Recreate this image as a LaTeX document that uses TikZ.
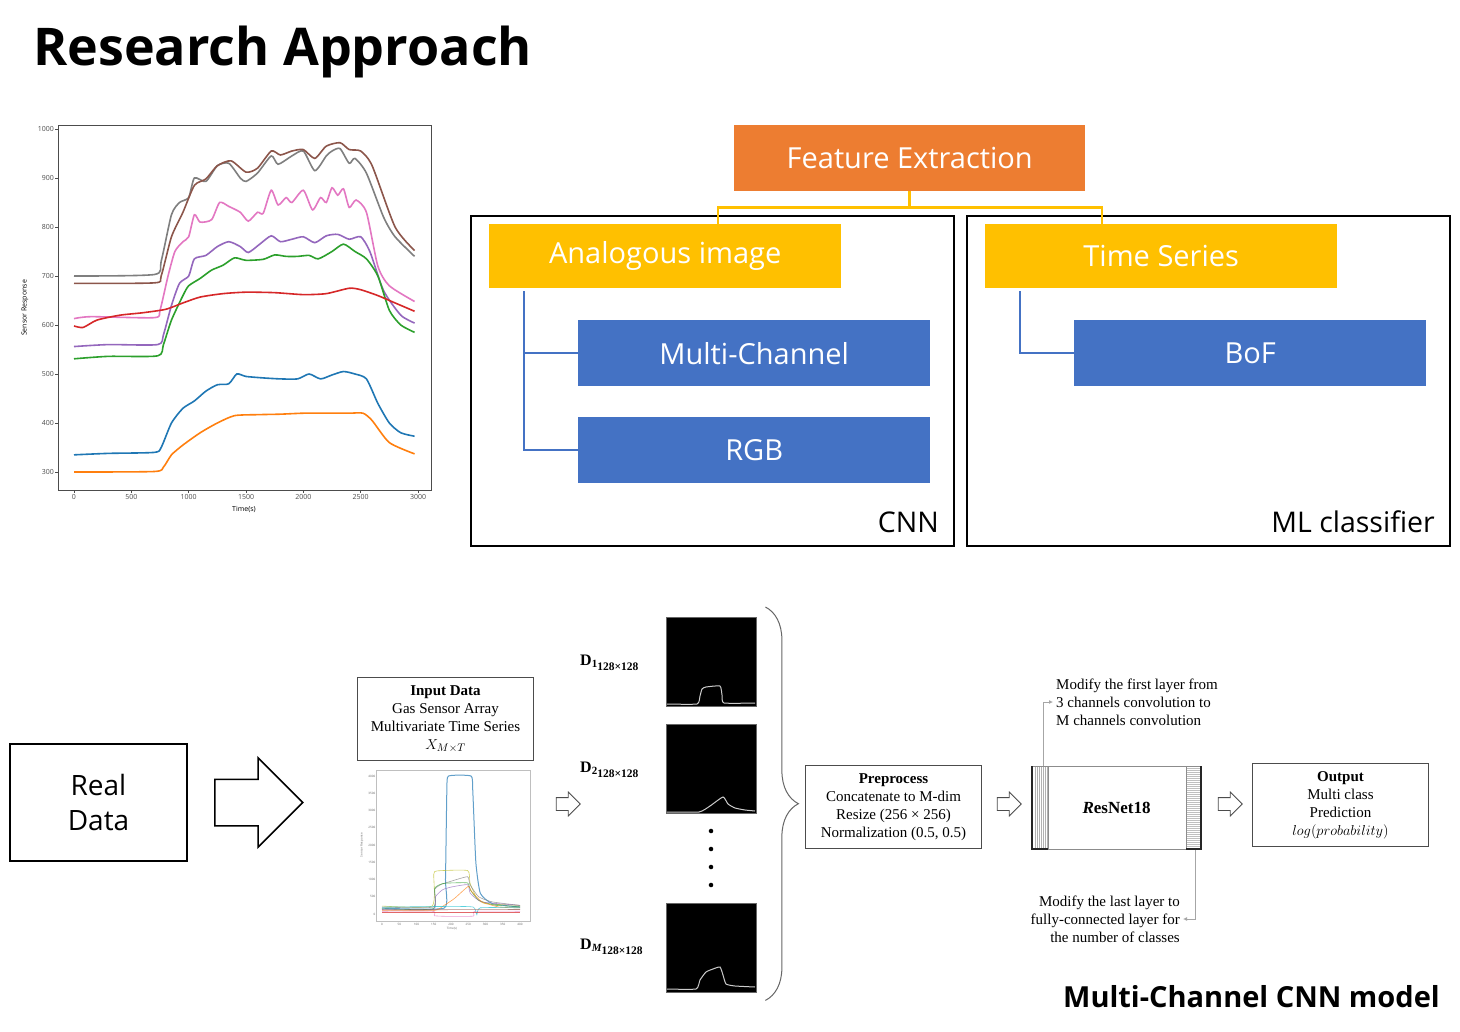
\documentclass[tikz,border=0pt]{standalone}
\usepackage{fontspec}
\setmainfont{Open Sans}
\newfontfamily\serifpipe{Liberation Serif}
\usetikzlibrary{positioning,shapes.arrows,decorations.pathreplacing,arrows,arrows.meta}

\definecolor{fxorange}{HTML}{ED7D31}
\definecolor{fxgold}{HTML}{FFC000}
\definecolor{fxblue}{HTML}{4472C4}
\definecolor{tabblue}{HTML}{1F77B4}
\definecolor{taborange}{HTML}{FF7F0E}
\definecolor{tabgreen}{HTML}{2CA02C}
\definecolor{tabred}{HTML}{D62728}
\definecolor{tabpurple}{HTML}{9467BD}
\definecolor{tabbrown}{HTML}{8C564B}
\definecolor{tabpink}{HTML}{E377C2}
\definecolor{tabgray}{HTML}{7F7F7F}
\definecolor{tabcyan}{HTML}{17BECF}
\definecolor{tabolive}{HTML}{BCBD22}

\begin{document}
\begin{tikzpicture}[
x=1pt, y=-1pt,
tile/.style={
  draw=none,
  inner sep=0pt,
  text=white,
  minimum width=352,
  minimum height=66,
  anchor=north west,
  font=\fontsize{29}{34}\selectfont
  },
group/.style={
  draw=black,
  line width=2pt,
  inner sep=0pt,
  minimum width=483,
  minimum height=330,
  anchor=north west
  },
grouplabel/.style={
  anchor=base east,
  inner sep=0pt,
  font=\fontsize{28.5}{34}\selectfont
  },
pipe/.style={
  draw=black!70,
  line width=1pt,
  inner sep=0pt,
  minimum width=176,
  minimum height=83,
  anchor=north west,
  align=center,
  font=\serifpipe\fontsize{15}{18}\selectfont
  },
note/.style={
  inner sep=3pt,
  font=\serifpipe\fontsize{15}{18}\selectfont
  },
hollow/.style={
  single arrow,
  draw=black!70,
  line width=0.8pt,
  fill=white,
  inner xsep=0pt,
  inner ysep=6pt,
  single arrow head extend=5.5pt,
  minimum height=24
  },
dlabel/.style={
  anchor=west,
  inner sep=0pt,
  font=\serifpipe\bfseries\fontsize{16}{18}\selectfont
  },
dimage/.style={
  fill=black,
  draw=black!60,
  inner sep=0pt,
  minimum width=90,
  minimum height=89,
  anchor=north west
  },
goldline/.style={draw=fxgold, line width=2.5pt},
blueline/.style={draw=fxblue, line width=1.8pt},
annot/.style={draw=black!35, line width=1pt, -{Latex[length=4pt,width=4pt]}},
signal/.style={white!80!black, line width=1pt},
curve/.style={line width=1.6pt},
faint/.style={line width=0.6pt, opacity=0.7},
tick label/.style={font=\fontsize{7}{8}\selectfont, inner sep=1pt},
tiny label/.style={font=\fontsize{3}{3}\selectfont, inner sep=0.5pt, black!60},
>=latex
]
\useasboundingbox (0,0) rectangle (1460,1032);
\fill[white] (0,0) rectangle (1460,1032);

\node[anchor=base west, inner sep=0pt, font=\bfseries\fontsize{52}{60}\selectfont] (title) at (33,66) {Research Approach};

% sensor response plot
\draw[black!70, line width=0.8pt] (58,125) rectangle (431,490);
\foreach \v in {300,400,...,1000}
  \draw[black!70] ({58},{472-(\v-300)*0.49}) -- ++(-3,0) node[tick label, anchor=east] (ytick\v) {\v};
\foreach \t in {0,500,...,3000}
  \draw[black!70] ({74+\t*0.11467},490) -- ++(0,3) node[tick label, anchor=north] (xtick\t) {\t};
\node[tick label, rotate=90] (ylab) at (25,308) {Sensor Response};
\node[tick label] (xlab) at (244,509) {Time(s)};
\begin{scope}[shift={(74,619)}, x=0.11467pt, y=0.49pt]
\draw[curve, tabgray] plot[smooth, tension=0.4] coordinates {(0,700) (700,703) (760,730) (850,825) (920,850) (1000,860) (1050,900) (1150,893) (1250,925) (1350,930) (1450,900) (1500,893) (1600,910) (1720,945) (1780,928) (1900,945) (2000,955) (2100,915) (2200,945) (2250,955) (2320,960) (2400,930) (2450,940) (2550,910) (2700,820) (2800,780) (2970,740)};
\draw[curve, tabbrown] plot[smooth, tension=0.4] coordinates {(0,685) (700,686) (760,700) (850,780) (950,830) (1050,885) (1150,898) (1250,925) (1370,935) (1500,912) (1600,920) (1720,955) (1800,947) (1900,955) (2000,958) (2100,940) (2200,965) (2320,972) (2400,958) (2500,955) (2600,925) (2800,800) (2970,752)};
\draw[curve, tabpink] plot[smooth, tension=0.4] coordinates {(0,613) (150,617) (700,615) (750,630) (820,700) (880,750) (950,770) (1000,780) (1050,825) (1100,810) (1200,815) (1270,850) (1350,842) (1450,830) (1520,812) (1600,830) (1650,828) (1720,875) (1780,845) (1850,860) (1900,850) (2000,875) (2080,835) (2150,860) (2200,850) (2250,880) (2300,865) (2350,878) (2400,840) (2460,855) (2550,830) (2650,720) (2750,680) (2970,648)};
\draw[curve, tabpurple] plot[smooth, tension=0.4] coordinates {(0,556) (300,560) (730,560) (780,580) (850,640) (920,685) (1000,700) (1050,735) (1150,742) (1250,760) (1350,770) (1450,760) (1520,748) (1620,765) (1720,782) (1800,770) (1900,775) (2000,780) (2100,768) (2200,782) (2300,785) (2400,775) (2500,780) (2580,750) (2700,670) (2850,620) (2970,604)};
\draw[curve, tabgreen] plot[smooth, tension=0.4] coordinates {(0,531) (300,536) (730,537) (780,560) (850,610) (950,660) (1000,680) (1100,695) (1200,712) (1300,722) (1400,737) (1500,732) (1650,734) (1750,743) (1850,740) (1950,740) (2050,742) (2130,735) (2250,750) (2350,765) (2450,750) (2550,735) (2650,700) (2750,630) (2850,600) (2970,585)};
\draw[curve, tabred] plot[smooth, tension=0.4] coordinates {(0,598) (80,595) (200,610) (400,620) (600,625) (800,632) (950,645) (1100,657) (1300,664) (1500,667) (1750,666) (2000,662) (2200,664) (2400,675) (2500,672) (2650,660) (2800,645) (2970,628)};
\draw[curve, tabblue] plot[smooth, tension=0.4] coordinates {(0,335) (300,338) (700,340) (760,350) (850,400) (950,430) (1050,445) (1150,465) (1250,478) (1350,480) (1420,500) (1500,495) (1650,492) (1800,490) (1950,490) (2050,500) (2150,490) (2250,498) (2350,505) (2450,500) (2550,490) (2650,440) (2750,400) (2850,380) (2970,373)};
\draw[curve, taborange] plot[smooth, tension=0.4] coordinates {(0,300) (700,301) (780,310) (850,335) (950,355) (1100,380) (1250,400) (1400,415) (1600,417) (1800,418) (2000,420) (2200,420) (2400,420) (2520,420) (2600,405) (2750,360) (2970,337)};
\end{scope}

% feature extraction tree
\node[tile, fill=fxorange, minimum width=351] (feat) at (734,125) {Feature Extraction};
\node[group] (cnn) at (470,215) {};
\node[group] (ml) at (966,215) {};
\node[tile, fill=fxgold, minimum height=64] (analog) at (489,224) {Analogous image};
\node[tile, fill=fxgold, minimum height=64] (ts) at (985,224) {Time Series};
\node[tile, fill=fxblue] (multi) at (578,320) {Multi-Channel};
\node[tile, fill=fxblue] (rgb) at (578,417) {RGB};
\node[tile, fill=fxblue] (bof) at (1074,320) {BoF};
\node[grouplabel] (cnnlab) at ([xshift=-16pt,yshift=15pt]cnn.south east) {CNN};
\node[grouplabel] (mllab) at ([xshift=-16pt,yshift=15pt]ml.south east) {ML classifier};
\draw[goldline] (feat.south) -- ++(0,16) -| ([xshift=53pt]analog.north);
\draw[goldline] (feat.south) -- ++(0,16) -| ([xshift=-59pt]ts.north);
\draw[blueline] ([xshift=35pt,yshift=-3pt]analog.south west) |- (multi.west);
\draw[blueline] ([xshift=35pt,yshift=-3pt]analog.south west) |- (rgb.west);
\draw[blueline] ([xshift=35pt,yshift=-3pt]ts.south west) |- (bof.west);

% real data
\node[draw, line width=2pt, minimum width=177, minimum height=117, anchor=north west, align=center, inner sep=0pt, font=\fontsize{28}{35}\selectfont] (real) at (9,743) {Real\\Data};
\node[single arrow, draw=black, line width=1.5pt, fill=white, inner xsep=0pt, inner ysep=22.5pt, single arrow head extend=21.5pt, minimum height=88, right=26pt of real] (bigarrow) {};

% multi-channel cnn pipeline
\node[pipe] (input) at (357,677) {\textbf{Input Data}\\Gas Sensor Array\\Multivariate Time Series\\$X_{M\times T}$};
\draw[black!25, line width=0.6pt] (376,770) rectangle (530,921);
\foreach \v [count=\vi from 0] in {0,500,...,4000}
  \node[tiny label, anchor=east] (stick\vi) at ({376},{914-\vi*17.25}) {\v};
\foreach \t [count=\ti from 0] in {0,50,...,400}
  \node[tiny label, anchor=north] (sxtick\ti) at ({382+\ti*17.25},923) {\t};
\node[tiny label, rotate=90] (sylab) at (362,845) {Sensor Response};
\node[tiny label] (sxlab) at (452,929) {Time(s)};
\begin{scope}[shift={(382,914)}, x=0.345pt, y=0.0345pt]
\draw[faint, tabblue, line width=1pt] plot[smooth, tension=0.3] coordinates {(0,170) (180,170) (184,1000) (188,3600) (193,4000) (258,4000) (263,3600) (272,1500) (285,600) (320,300) (400,200)};
\draw[faint, tabolive] plot[smooth, tension=0.3] coordinates {(0,230) (145,230) (150,1150) (160,1250) (248,1260) (255,900) (275,450) (300,300) (400,250)};
\draw[faint, tabgray] plot[smooth, tension=0.3] coordinates {(0,200) (148,200) (152,700) (170,850) (200,950) (248,1080) (255,850) (280,500) (320,350) (400,250)};
\draw[faint, tabgreen] plot[smooth, tension=0.3] coordinates {(0,150) (148,150) (153,750) (175,880) (200,900) (248,900) (256,700) (280,400) (330,250) (400,220)};
\draw[faint, tabpurple] plot[smooth, tension=0.3] coordinates {(0,130) (148,130) (155,500) (175,700) (200,780) (248,850) (256,600) (290,350) (400,250)};
\draw[faint, taborange] plot[smooth, tension=0.3] coordinates {(0,100) (150,100) (180,250) (210,450) (250,800) (260,650) (290,350) (340,200) (400,180)};
\draw[faint, tabpink] plot[smooth, tension=0.3] coordinates {(0,80) (148,80) (152,-50) (200,-70) (265,-60) (270,80) (400,80)};
\draw[faint, tabcyan] plot[smooth, tension=0.3] coordinates {(0,200) (200,220) (265,200) (275,-20) (285,180) (400,180)};
\draw[faint, tabred] (0,60) -- (400,60);
\draw[faint, tabbrown] (0,120) -- (400,130);
\end{scope}
\node[hollow] (arr1) at (565,804) {};

\node[dimage] (img1) at (666,617) {};
\node[dimage] (img2) at (666,724) {};
\node[dimage] (imgM) at (666,903) {};
\draw[signal] plot[smooth, tension=0.3] coordinates {(667,704) (697,704) (700,696) (702,689) (706,687) (720,686) (722,695) (724,703) (755,703)};
\draw[signal] plot[smooth, tension=0.3] coordinates {(667,812) (699,812) (710,806) (723,797) (728,804) (735,808) (745,810) (755,811)};
\draw[signal] plot[smooth, tension=0.3] coordinates {(667,989) (696,989) (700,980) (706,972) (713,969) (720,967) (723,975) (726,984) (735,986) (755,987)};
\node[dlabel] (d1) at (580,663) {D\raisebox{-2pt}{\fontsize{11}{11}\selectfont 1}\raisebox{-5pt}{\fontsize{11.5}{11}\selectfont 128×128}};
\node[dlabel] (d2) at (580,770) {D\raisebox{-2pt}{\fontsize{11}{11}\selectfont 2}\raisebox{-5pt}{\fontsize{11.5}{11}\selectfont 128×128}};
\node[dlabel] (dM) at (580,947) {D\raisebox{-2pt}{\fontsize{11}{11}\selectfont\itshape M}\raisebox{-5pt}{\fontsize{11.5}{11}\selectfont 128×128}};
\foreach \dy [count=\di] in {831,849,867,885}
  \node[circle, fill=black, inner sep=1.6pt] (dot\di) at (711,\dy) {};
\draw[decorate, decoration={brace, amplitude=33pt}, black!60, line width=1pt] ([xshift=9pt,yshift=10pt]img1.north east) -- ([xshift=9pt,yshift=-8pt]imgM.south east);

\node[pipe] (prep) at (805,765) {\textbf{Preprocess}\\Concatenate to M-dim\\Resize (256 × 256)\\Normalization (0.5, 0.5)};
\node[hollow] (arr2) at (1006,804) {};
\node[pipe, minimum width=170, draw=black!45, font=\serifpipe\bfseries\fontsize{17}{18}\selectfont] (resnet) at (1031,766) {\textit{R}esNet18};
\foreach \sx in {1035,1037,...,1047}
  \draw[black!30, line width=0.5pt] (\sx,767) -- (\sx,848);
\foreach \sy in {768,770,...,848}
  \draw[black!25, line width=0.6pt] (1187,\sy) -- (1200,\sy);
\draw[black!45, line width=0.8pt] (1048,766) -- (1048,849) (1186,766) -- (1186,849);
\draw[black!85, line width=2pt] (1032,766) -- (1032,849) -- (1048,849) (1186,849) -- (1201,849) -- (1201,766);
\node[hollow] (arr3) at (1227,804) {};
\node[pipe] (output) at (1252,763) {\textbf{Output}\\Multi class\\Prediction\\$log(probability)$};
\node[note, anchor=west, align=left] (topnote) at (1053,702) {Modify the first layer from\\3 channels convolution to\\M channels convolution};
\node[note, anchor=east, align=right] (botnote) at (1183,919) {Modify the last layer to\\fully-connected layer for\\the number of classes};
\draw[annot] ([xshift=12pt]resnet.north west) |- (topnote.west);
\draw[annot] ([xshift=-7pt]resnet.south east) |- (botnote.east);

\node[anchor=base east, inner sep=0pt, font=\bfseries\fontsize{29}{34}\selectfont] (mcmodel) at (1440,1007) {Multi-Channel CNN model};
\end{tikzpicture}
\end{document}
